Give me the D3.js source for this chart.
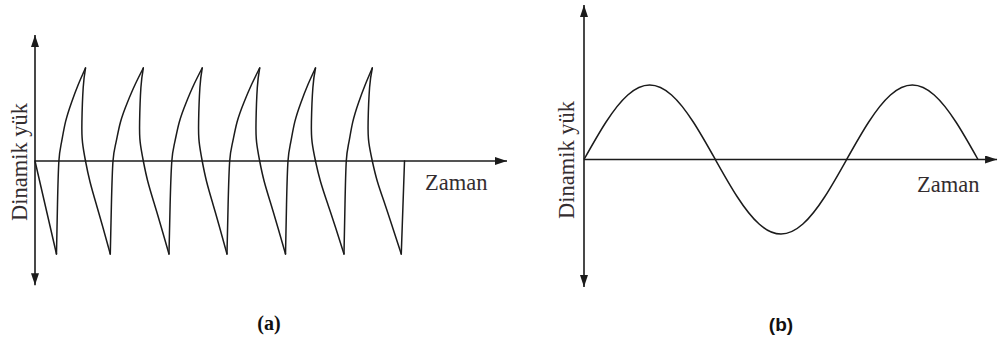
<!DOCTYPE html>
<html>
<head>
<meta charset="utf-8">
<script src="https://cdn.jsdelivr.net/npm/d3@7/dist/d3.min.js"></script>
<style>
  body { margin: 0; background: #fff; }
  svg { display: block; }
</style>
</head>
<body>
<svg id="chart" width="999" height="341"></svg>
<script>
// ---- Panel (a): repeated impact-type dynamic load ----
// rising edges: time stamps and load levels along each edge (trough -> peak)
const riseLoad = [-1, -0.47, 0, 0.2, 0.42, 0.63, 0.82, 1];
const riseTimes = [
  [0.364, 0.381, 0.405, 0.449, 0.517, 0.619, 0.732, 0.856],
  [1.276, 1.295, 1.322, 1.373, 1.449, 1.566, 1.695, 1.836],
  [2.271, 2.290, 2.319, 2.368, 2.446, 2.563, 2.692, 2.834],
  [3.254, 3.273, 3.300, 3.349, 3.425, 3.541, 3.669, 3.808],
  [4.246, 4.263, 4.288, 4.334, 4.403, 4.508, 4.625, 4.754],
  [5.237, 5.254, 5.276, 5.320, 5.386, 5.485, 5.597, 5.717]
];
// falling edges (peak -> next trough)
const fallLoad = [1, 0.79, 0.42, 0.2, 0, -0.22, -0.47, -0.72, -1];
const fallTimes = [
  [0.856, 0.817, 0.795, 0.805, 0.856, 0.931, 1.041, 1.154, 1.276],
  [1.836, 1.795, 1.773, 1.783, 1.836, 1.912, 2.027, 2.144, 2.271],
  [2.834, 2.795, 2.773, 2.783, 2.834, 2.908, 3.019, 3.132, 3.254],
  [3.808, 3.768, 3.746, 3.756, 3.808, 3.885, 4.002, 4.119, 4.246],
  [4.754, 4.710, 4.685, 4.697, 4.754, 4.839, 4.966, 5.097, 5.237],
  [5.717, 5.671, 5.646, 5.658, 5.717, 5.803, 5.934, 6.064, 6.208]
];
// initial ramp and final release
const startTimes = [0, 0.364], startLoad = [0, -1];
const endTimes = [6.208, 6.263], endLoad = [-1, 0];

// ---- Panel (b): harmonic dynamic load, sampled every 30 degrees ----
const sineTime = [0, 1, 2, 3, 4, 5, 6, 7, 8, 9, 10, 11, 12, 13, 14, 15, 16, 17, 18];
const sineLoad = [0, 0.5, 0.866, 1, 0.866, 0.5, 0, -0.5, -0.866, -1, -0.866, -0.5,
                  0, 0.5, 0.866, 1, 0.866, 0.5, 0];

// ---- Labels ----
const axisTitleY = "Dinamik yük";
const axisTitleX = "Zaman";
const panelLabels = ["(a)", "(b)"];

const svg = d3.select("#chart");
const ink = "#1b1b1b";
const textInk = "#342d2f";

// arrow head marker
svg.append("defs").append("marker")
  .attr("id", "arrow")
  .attr("viewBox", "0 0 12 8")
  .attr("refX", 12).attr("refY", 4)
  .attr("markerWidth", 12).attr("markerHeight", 8)
  .attr("markerUnits", "userSpaceOnUse")
  .attr("orient", "auto-start-reverse")
  .append("path")
  .attr("d", "M0,0 L12,4 L0,8 Z")
  .attr("fill", ink);

function drawAxes(g, x, y, xEnd, yTop, yBottom) {
  g.append("line")
    .attr("x1", x(0)).attr("x2", x(0))
    .attr("y1", y(yBottom)).attr("y2", y(yTop))
    .attr("stroke", ink).attr("stroke-width", 1.6)
    .attr("marker-start", "url(#arrow)")
    .attr("marker-end", "url(#arrow)");
  g.append("line")
    .attr("x1", x(0)).attr("x2", x(xEnd))
    .attr("y1", y(0)).attr("y2", y(0))
    .attr("stroke", ink).attr("stroke-width", 1.6)
    .attr("marker-end", "url(#arrow)");
}

const zip = (ts, vs) => ts.map((t, i) => [t, vs[i]]);

// ---- Panel (a) ----
const xA = d3.scaleLinear().domain([0, 8]).range([35, 507]);
const yA = d3.scaleLinear().domain([-1, 1]).range([254, 68]);
const gA = svg.append("g");
drawAxes(gA, xA, yA, 8, 1.355, -1.335);

const lineA = d3.line().x(d => xA(d[0])).y(d => yA(d[1])).curve(d3.curveNatural);
const straightA = d3.line().x(d => xA(d[0])).y(d => yA(d[1]));
const edges = [].concat(
  riseTimes.map(ts => zip(ts, riseLoad)),
  fallTimes.map(ts => zip(ts, fallLoad))
);
gA.selectAll("path.edge").data(edges).join("path")
  .attr("class", "edge")
  .attr("d", lineA)
  .attr("fill", "none").attr("stroke", ink).attr("stroke-width", 1.5)
  .attr("stroke-linecap", "round").attr("stroke-linejoin", "round");
[zip(startTimes, startLoad), zip(endTimes, endLoad)].forEach(seg => {
  gA.append("path").attr("d", straightA(seg))
    .attr("fill", "none").attr("stroke", ink).attr("stroke-width", 1.5)
    .attr("stroke-linecap", "round");
});

// ---- Panel (b) ----
const xB = d3.scaleLinear().domain([0, 18]).range([584, 978]);
const yB = d3.scaleLinear().domain([-1, 1]).range([234, 85]);
const gB = svg.append("g");
drawAxes(gB, xB, yB, 18.87, 2.074, -1.711);

const lineB = d3.line().x(d => xB(d[0])).y(d => yB(d[1])).curve(d3.curveNatural);
gB.append("path").attr("d", lineB(zip(sineTime, sineLoad)))
  .attr("fill", "none").attr("stroke", ink).attr("stroke-width", 1.5);

// ---- Text ----
const serif = "'Liberation Serif', 'Times New Roman', serif";
function yTitle(x, y) {
  svg.append("text")
    .attr("transform", `translate(${x},${y}) rotate(-90)`)
    .attr("text-anchor", "middle")
    .attr("font-family", serif).attr("font-size", 22.5)
    .attr("fill", textInk)
    .text(axisTitleY);
}
yTitle(27, 162);
yTitle(574, 160);

svg.append("text").attr("x", 425).attr("y", 190)
  .attr("font-family", serif).attr("font-size", 22.5).attr("fill", textInk)
  .text(axisTitleX);
svg.append("text").attr("x", 917).attr("y", 192)
  .attr("font-family", serif).attr("font-size", 22.5).attr("fill", textInk)
  .text(axisTitleX);

svg.append("text").attr("x", 269).attr("y", 330).attr("text-anchor", "middle")
  .attr("font-family", serif).attr("font-weight", "bold").attr("font-size", 20)
  .attr("fill", "#111").text(panelLabels[0]);
svg.append("text").attr("x", 781).attr("y", 331).attr("text-anchor", "middle")
  .attr("font-family", "'Liberation Sans', Arial, sans-serif").attr("font-weight", "bold").attr("font-size", 19)
  .attr("fill", "#111").text(panelLabels[1]);
</script>
</body>
</html>
